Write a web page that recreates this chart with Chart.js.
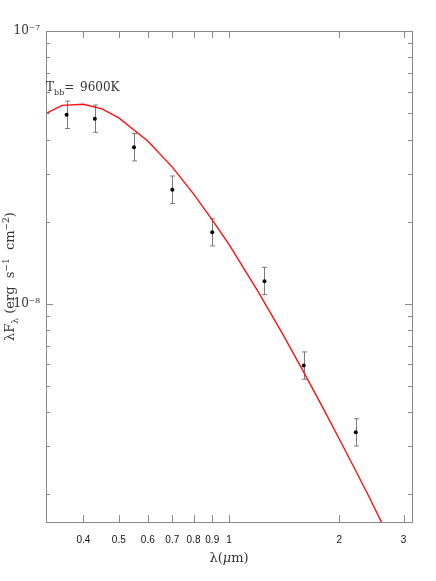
<!DOCTYPE html>
<html>
<head>
<meta charset="utf-8">
<script src="https://cdn.jsdelivr.net/npm/chart.js@4/dist/chart.umd.min.js"></script>
<style>
  html, body { margin: 0; padding: 0; background: #fff; }
  canvas { display: block; }
</style>
</head>
<body>
<canvas id="sedChart" width="436" height="581"></canvas>
<script>
// Blackbody model curve (T = 9600 K)
const curveWave = [0.30, 0.35, 0.40, 0.45, 0.50, 0.60, 0.70, 0.80, 0.90, 1.0, 1.2, 1.4, 1.6, 1.8, 2.0, 2.2, 2.4, 2.6, 2.8];
const curveFlux = [4.81e-8, 5.34e-8, 5.39e-8, 5.18e-8, 4.80e-8, 3.95e-8, 3.17e-8, 2.53e-8, 2.03e-8, 1.65e-8,
                   1.11e-8, 7.77e-9, 5.62e-9, 4.19e-9, 3.20e-9, 2.50e-9, 1.99e-9, 1.60e-9, 1.31e-9];

// Photometric points with error bars
const bandWave = [0.36, 0.43, 0.55, 0.70, 0.90, 1.25, 1.60, 2.22];
const bandFlux = [4.93e-8, 4.77e-8, 3.75e-8, 2.62e-8, 1.83e-8, 1.21e-8, 5.94e-9, 3.38e-9];
const fluxErrHi = [6.0e-9, 5.8e-9, 4.6e-9, 3.2e-9, 2.2e-9, 1.5e-9, 7.2e-10, 4.1e-10];
const fluxErrLo = [5.4e-9, 5.2e-9, 4.1e-9, 2.9e-9, 2.0e-9, 1.3e-9, 6.5e-10, 3.7e-10];

// Axis ticks
const xTickValues = [0.4, 0.5, 0.6, 0.7, 0.8, 0.9, 1, 2, 3];
const yMajorTicks = [1e-9, 1e-8, 1e-7];

const AXIS_COLOR = '#8a8a8a';
const TEXT_COLOR = '#333';
const SERIF = '"DejaVu Serif", "Liberation Serif", serif';

function isMajor(v) {
  const e = Math.log10(v);
  return Math.abs(e - Math.round(e)) < 1e-6;
}

function superscript(n) {
  const map = { '-': '\u207B', '0': '\u2070', '1': '\u00B9', '2': '\u00B2', '3': '\u00B3', '4': '\u2074',
                '5': '\u2075', '6': '\u2076', '7': '\u2077', '8': '\u2078', '9': '\u2079' };
  return String(n).split('').map(c => map[c]).join('');
}

// Draw a run of text pieces with sub/superscripts (p.at = absolute x offset)
function drawRich(ctx, parts, x, y, size) {
  let cx = x;
  parts.forEach(p => {
    const s = p.sub || p.sup ? Math.round(size * 0.66) : size;
    ctx.font = (p.italic ? 'italic ' : '') + s + 'px ' + SERIF;
    const dy = p.sub ? size * 0.3 : (p.sup ? -size * 0.42 : 0);
    if (p.at !== undefined) cx = x + p.at;
    ctx.fillText(p.t, cx, y + dy);
    cx += ctx.measureText(p.t).width;
  });
  return cx - x;
}

function richWidth(ctx, parts, size) {
  let w = 0;
  parts.forEach(p => {
    const s = p.sub || p.sup ? Math.round(size * 0.66) : size;
    ctx.font = (p.italic ? 'italic ' : '') + s + 'px ' + SERIF;
    w += ctx.measureText(p.t).width;
  });
  return w;
}

// White background
const bgPlugin = {
  id: 'bg',
  beforeDraw(chart) {
    const ctx = chart.ctx;
    ctx.save();
    ctx.fillStyle = '#fff';
    ctx.fillRect(0, 0, chart.width, chart.height);
    ctx.restore();
  }
};

// Error bars drawn through the scales
const errorBarPlugin = {
  id: 'errorBars',
  beforeDatasetsDraw(chart) {
    const ctx = chart.ctx;
    const xs = chart.scales.x, ys = chart.scales.y;
    ctx.save();
    ctx.strokeStyle = '#7a7a7a';
    ctx.lineWidth = 1;
    bandWave.forEach((w, i) => {
      const px = Math.round(xs.getPixelForValue(w)) + 0.5;
      const top = ys.getPixelForValue(bandFlux[i] + fluxErrHi[i]);
      const bot = ys.getPixelForValue(bandFlux[i] - fluxErrLo[i]);
      ctx.beginPath();
      ctx.moveTo(px, top); ctx.lineTo(px, bot);
      ctx.moveTo(px - 2.5, top); ctx.lineTo(px + 2.5, top);
      ctx.moveTo(px - 2.5, bot); ctx.lineTo(px + 2.5, bot);
      ctx.stroke();
    });
    ctx.restore();
  }
};

// Frame, inward ticks on all four sides, titles and annotation
const framePlugin = {
  id: 'frame',
  afterDraw(chart) {
    const ctx = chart.ctx;
    const a = chart.chartArea;
    const xs = chart.scales.x, ys = chart.scales.y;
    ctx.save();
    ctx.strokeStyle = AXIS_COLOR;
    ctx.lineWidth = 1;
    ctx.strokeRect(Math.round(a.left) + 0.5, Math.round(a.top) + 0.5,
                   Math.round(a.right - a.left), Math.round(a.bottom - a.top));
    ctx.beginPath();
    xs.ticks.forEach(t => {
      const px = Math.round(xs.getPixelForValue(t.value)) + 0.5;
      ctx.moveTo(px, a.bottom); ctx.lineTo(px, a.bottom - 7);
      ctx.moveTo(px, a.top); ctx.lineTo(px, a.top + 7);
    });
    ys.ticks.forEach(t => {
      const py = Math.round(ys.getPixelForValue(t.value)) + 0.5;
      const len = isMajor(t.value) ? 7 : 4;
      ctx.moveTo(a.left, py); ctx.lineTo(a.left + len, py);
      ctx.moveTo(a.right, py); ctx.lineTo(a.right - len, py);
    });
    ctx.stroke();

    ctx.fillStyle = TEXT_COLOR;
    ctx.textBaseline = 'alphabetic';
    ctx.textAlign = 'left';

    // x title
    const xParts = [{ t: 'λ(' }, { t: 'μ', italic: true }, { t: 'm)' }];
    const xw = richWidth(ctx, xParts, 13);
    drawRich(ctx, xParts, (a.left + a.right) / 2 - xw / 2, 562, 13);

    // y title, rotated
    const yParts = [{ t: 'λF' }, { t: 'λ', sub: true }, { t: ' (erg  s' }, { t: '−1', sup: true },
                    { t: '  cm' }, { t: '−2', sup: true }, { t: ')' }];
    const yw = richWidth(ctx, yParts, 13);
    ctx.save();
    ctx.translate(14, (a.top + a.bottom) / 2);
    ctx.rotate(-Math.PI / 2);
    drawRich(ctx, yParts, -yw / 2, 0, 13);
    ctx.restore();

    // temperature label
    drawRich(ctx, [{ t: 'T' }, { t: 'bb', sub: true }, { t: '=' }, { t: '9600K', at: 34 }], a.left, 91, 12);
    ctx.restore();
  }
};

const ctx = document.getElementById('sedChart');

new Chart(ctx, {
  type: 'scatter',
  data: {
    datasets: [{
      type: 'line',
      label: 'Blackbody',
      data: curveWave.map((w, i) => ({ x: w, y: curveFlux[i] })),
      borderColor: '#ff1010',
      borderWidth: 1.4,
      pointRadius: 0,
      fill: false,
      tension: 0
    }, {
      label: 'Photometry',
      data: bandWave.map((w, i) => ({ x: w, y: bandFlux[i] })),
      backgroundColor: '#000',
      borderColor: '#000',
      pointRadius: 2,
      borderWidth: 0
    }]
  },
  options: {
    responsive: false,
    animation: false,
    events: [],
    layout: { padding: { top: 31, right: 24, left: 0, bottom: 0 } },
    plugins: {
      legend: { display: false },
      tooltip: { enabled: false }
    },
    scales: {
      x: {
        type: 'logarithmic',
        position: 'bottom',
        min: Math.pow(10, -0.5),
        max: Math.pow(10, 0.5),
        bounds: 'data',
        afterBuildTicks: scale => { scale.ticks = xTickValues.map(v => ({ value: v })); },
        afterFit: scale => { scale.height = 59; },
        grid: { display: false, drawTicks: false },
        border: { display: false },
        ticks: {
          autoSkip: false,
          maxRotation: 0,
          padding: 12,
          color: '#111',
          font: { family: '"Liberation Sans", Arial, sans-serif', size: 10 },
          callback: value => String(value)
        }
      },
      y: {
        type: 'logarithmic',
        min: Math.pow(10, -8.8),
        max: 1e-7,
        bounds: 'data',
        afterBuildTicks: scale => {
          const ticks = [];
          yMajorTicks.forEach(m => {
            for (let k = 1; k <= 9; k++) {
              const v = m * k;
              if (v >= scale.min * 0.999 && v <= scale.max * 1.001) ticks.push({ value: v });
            }
          });
          scale.ticks = ticks;
        },
        afterFit: scale => { scale.width = 46; },
        grid: { display: false, drawTicks: false },
        border: { display: false },
        ticks: {
          autoSkip: false,
          padding: 6,
          color: TEXT_COLOR,
          font: { family: SERIF, size: 12 },
          callback: value => isMajor(value) ? '10' + superscript(Math.round(Math.log10(value))) : ''
        }
      }
    }
  },
  plugins: [bgPlugin, errorBarPlugin, framePlugin]
});
</script>
</body>
</html>
